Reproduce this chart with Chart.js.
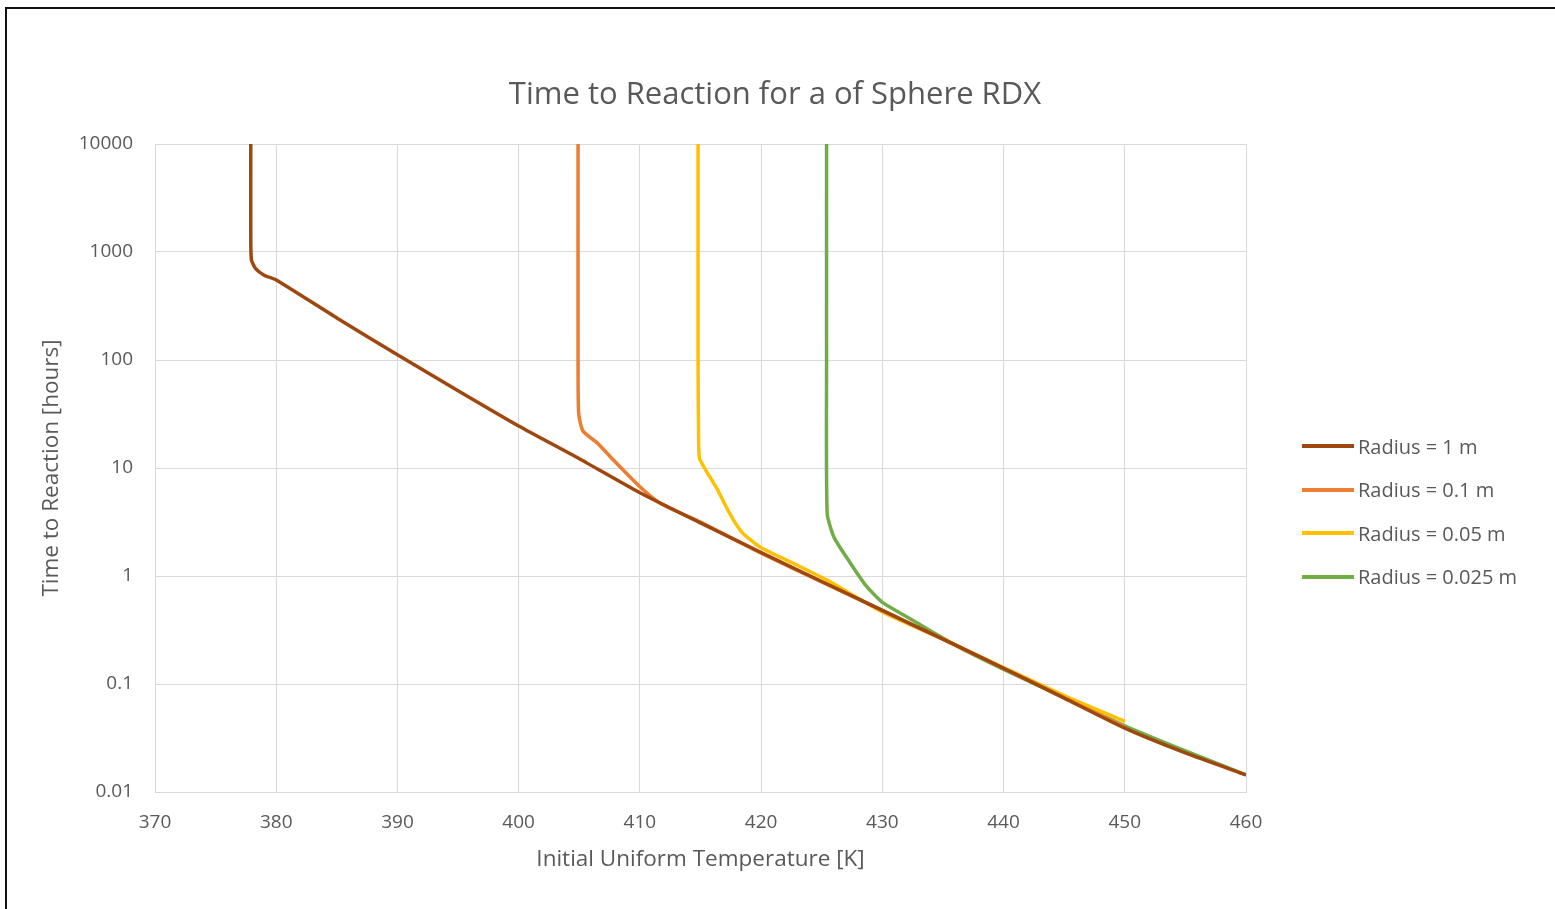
<!DOCTYPE html>
<html>
<head>
<meta charset="utf-8">
<script src="https://cdn.jsdelivr.net/npm/chart.js@4/dist/chart.umd.min.js"></script>
<style>
  body { margin: 0; background: #fff; }
  #wrap { position: relative; width: 1555px; height: 909px; }
  #frame { position: absolute; left: 5px; top: 7px; right: 0; bottom: 0; border-top: 2px solid #111; border-left: 2px solid #111; }
  #chart { position: absolute; left: 0; top: 0; }
  #title { position: absolute; left: 0; width: 1550px; top: 73px; height: 38px; line-height: 38px; text-align: center;
    font-family: "Open Sans", sans-serif; font-size: 31px; color: #595959; }
  #legend { position: absolute; left: 1302px; top: 434px; margin: 0; padding: 0; list-style: none;
    font-family: "Open Sans", sans-serif; font-size: 20px; color: #595959; }
  #legend li { display: flex; align-items: center; height: 24px; margin-bottom: 19.5px; }
  #legend span.sw { display: inline-block; width: 52px; height: 4px; margin-right: 4px; }
</style>
</head>
<body>
<div id="wrap">
  <div id="frame"></div>
  <canvas id="chart" width="1555" height="909"></canvas>
  <div id="title"></div>
  <ul id="legend"></ul>
</div>
<script>
const title = 'Time to Reaction for a of Sphere RDX';
const xTitle = 'Initial Uniform Temperature [K]';
const yTitle = 'Time to Reaction [hours]';
const yTicks = [0.01, 0.1, 1, 10, 100, 1000, 10000];

// Radius = 1 m
const r1T = [377.9, 377.9, 377.95, 378.3, 379.0, 380, 385, 390, 395, 400, 405, 410, 415, 420, 425, 430, 435, 440, 445, 450, 455, 460];
const r1H = [10000, 1500, 850, 700, 610, 550, 245, 112, 52, 24.5, 12.2, 5.9, 3.1, 1.65, 0.89, 0.48, 0.26, 0.14, 0.074, 0.039, 0.023, 0.0144];

// Radius = 0.1 m
const r01T = [404.9, 404.9, 404.95, 405.3, 406.5, 407.8, 410, 411.7, 415, 420, 425, 430, 435, 440, 445, 450];
const r01H = [10000, 100, 32, 22, 17, 11.9, 6.7, 4.7, 3.15, 1.63, 0.88, 0.48, 0.26, 0.14, 0.075, 0.04];

// Radius = 0.05 m
const r005T = [414.8, 414.8, 414.85, 414.96, 416.4, 417.4, 418.4, 419.9, 422.6, 425.4, 430, 435, 440, 445, 450];
const r005H = [10000, 100, 15.6, 11.9, 6.3, 3.8, 2.55, 1.86, 1.32, 0.92, 0.465, 0.26, 0.142, 0.078, 0.045];

// Radius = 0.025 m
const r0025T = [425.4, 425.4, 425.45, 426.0, 427.3, 428.7, 430.1, 432, 434.2, 437, 439.7, 445, 450, 455, 460];
const r0025H = [10000, 100, 3.8, 2.3, 1.35, 0.8, 0.56, 0.42, 0.3, 0.2, 0.142, 0.075, 0.041, 0.024, 0.0144];

const seriesNames = ['Radius = 1 m', 'Radius = 0.1 m', 'Radius = 0.05 m', 'Radius = 0.025 m'];
const seriesColors = ['#9E480E', '#ED7D31', '#FFC000', '#70AD47'];
const seriesData = [[r1T, r1H], [r01T, r01H], [r005T, r005H], [r0025T, r0025H]];

const font = '"Open Sans", sans-serif';
const grey = '#595959';
const gridColor = '#d9d9d9';

const datasets = seriesData.map(([xs, ys], i) => ({
  label: seriesNames[i],
  data: xs.map((x, j) => ({ x, y: ys[j] })),
  borderColor: seriesColors[i],
  backgroundColor: seriesColors[i],
  borderWidth: 3.5,
  pointRadius: 0,
  showLine: true,
  tension: 0.2,
}));

const chart = new Chart(document.getElementById('chart'), {
  type: 'scatter',
  data: { datasets },
  options: {
    responsive: false,
    animation: false,
    layout: { padding: { top: 144, left: 0, right: 309, bottom: 0 } },
    plugins: {
      legend: { display: false },
      tooltip: { enabled: false },
      title: { display: false },
    },
    scales: {
      x: {
        type: 'linear',
        min: 370,
        max: 460,
        ticks: { stepSize: 10, color: grey, font: { family: font, size: 19 }, padding: 19 },
        grid: { color: gridColor, drawTicks: false },
        border: { color: gridColor },
        title: {
          display: true, text: xTitle, color: grey,
          font: { family: font, size: 22.5, lineHeight: 1.2 },
          padding: { top: 0, bottom: 35.5 },
        },
        afterFit: (s) => { s.height = 909 - 792; },
      },
      y: {
        type: 'logarithmic',
        min: 0.01,
        max: 10000,
        afterBuildTicks: (s) => { s.ticks = yTicks.map((v) => ({ value: v })); },
        ticks: {
          color: grey, font: { family: font, size: 19 }, padding: 22,
          callback: (v) => String(v),
        },
        grid: { color: gridColor, drawTicks: false },
        border: { color: gridColor },
        title: {
          display: true, text: yTitle, color: grey,
          font: { family: font, size: 22.5, lineHeight: 1.2 },
          padding: { top: 38.5, bottom: 0 },
        },
        afterFit: (s) => { s.width = 155; },
      },
    },
  },
});

document.getElementById('title').textContent = title;

const legend = document.getElementById('legend');
chart.data.datasets.forEach((ds) => {
  const li = document.createElement('li');
  const sw = document.createElement('span');
  sw.className = 'sw';
  sw.style.background = ds.borderColor;
  li.appendChild(sw);
  li.appendChild(document.createTextNode(ds.label));
  legend.appendChild(li);
});
</script>
</body>
</html>
